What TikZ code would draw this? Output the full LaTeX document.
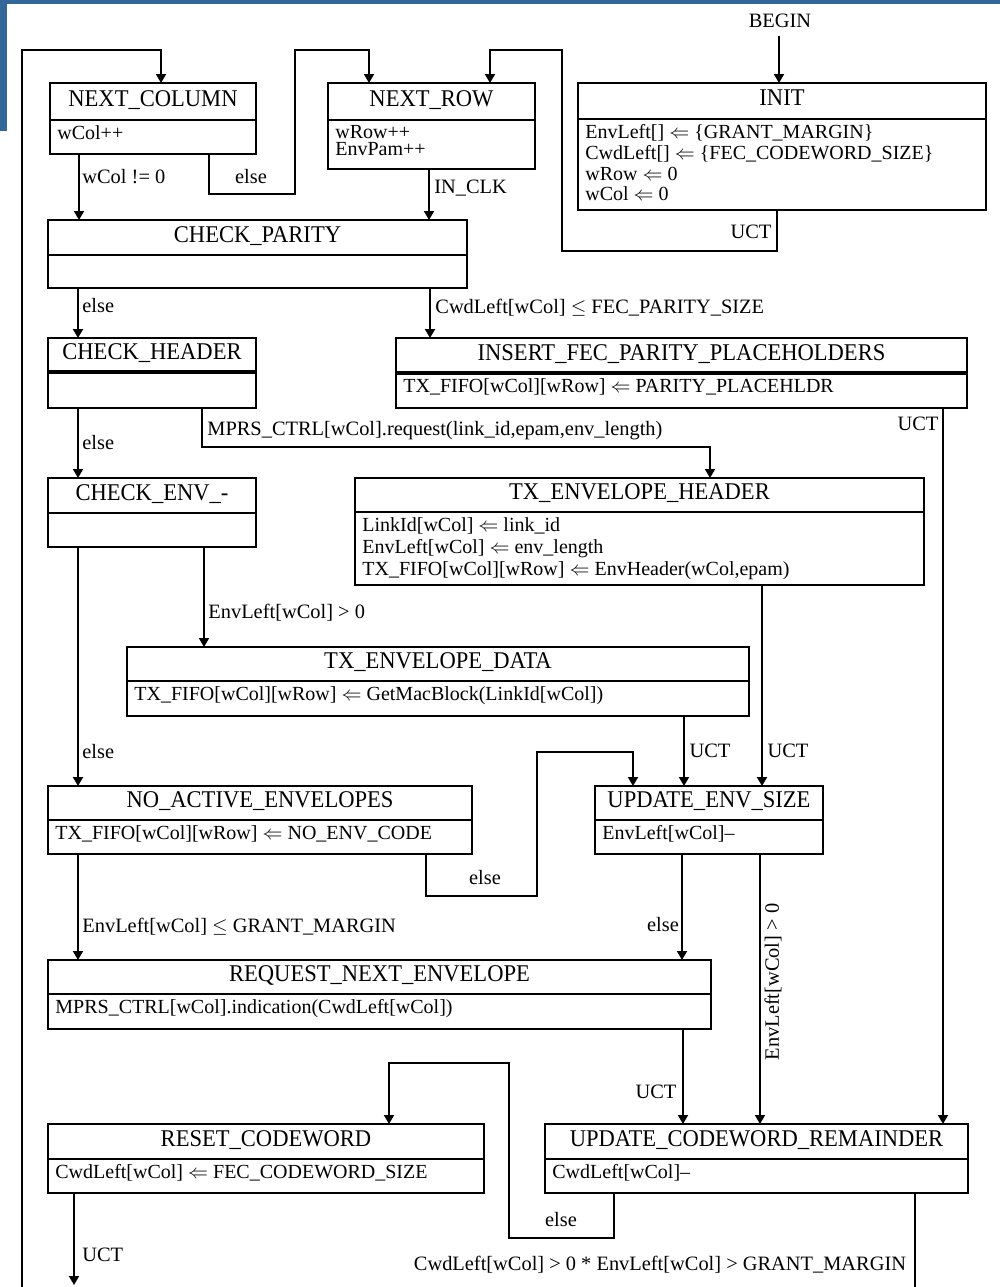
\documentclass[tikz,border=0pt]{standalone}
\usepackage{fontspec}
\setmainfont{Liberation Serif}
\newfontfamily\ttlfont{Liberation Serif}[FakeStretch=0.94]
\usetikzlibrary{arrows.meta}
\definecolor{bandblue}{RGB}{51,102,153}

\tikzset{
  sbox/.style={draw, line width=0.9pt, inner sep=0pt, outer sep=0pt},
  divline/.style={line width=0.9pt},
  thickdiv/.style={line width=1.6pt},
  ttl/.style={inner sep=0pt, anchor=base, font={\ttlfont\fontsize{12pt}{14pt}\selectfont}},
  bdy/.style={inner sep=0pt, anchor=north west, align=left},
  lbl/.style={inner sep=0pt, font={\fontsize{10.2pt}{12pt}\selectfont}},
  conn/.style={line width=0.9pt},
  arr/.style={conn, -{Triangle[length=4.5pt,width=5pt]}},
}

% state box: name, x1, y1, x2, y2, divider y, body line skip (pt), title, body
\newcommand\stbox[9]{%
  \pgfmathsetmacro\boxw{(#4-#2)*0.5}%
  \pgfmathsetmacro\boxh{(#5-#3)*0.5}%
  \node[sbox, minimum width=\boxw pt, minimum height=\boxh pt] (#1) at ({(#2+#4)/2},{(#3+#5)/2}) {};
  \draw[divline] (#2,#6) -- (#4,#6);
  \node[ttl] (#1-t) at ({(#2+#4)/2},{(#3+#6)/2+4.5}) {#8};
  \node[bdy, font={\fontsize{10pt}{#7pt}\selectfont}] (#1-b) at (#2+7,#6+5) {#9};
}

\begin{document}
\begin{tikzpicture}[x=0.5pt, y=-0.5pt]
\useasboundingbox (0,0) rectangle (1000,1287);

% page edge band
\fill[bandblue] (0,0) rectangle (1000,4);
\fill[bandblue] (0,0) rectangle (7,131);

% states
\stbox{nc}{50}{83}{256}{154}{120}{10}{NEXT\_COLUMN}{wCol++}
\stbox{nr}{328}{83}{535}{169}{120}{8.5}{NEXT\_ROW}{wRow++\\EnvPam++}
\stbox{init}{578}{83}{986}{210}{119}{10.4}{INIT}{EnvLeft[] $\Leftarrow$ \{GRANT\_MARGIN\}\\CwdLeft[] $\Leftarrow$ \{FEC\_CODEWORD\_SIZE\}\\wRow $\Leftarrow$ 0\\wCol $\Leftarrow$ 0}
\stbox{cp}{48}{220}{467}{288}{255}{10}{CHECK\_PARITY}{}
\stbox{ch}{48}{338}{256}{408}{372}{10}{CHECK\_HEADER}{}
\draw[thickdiv] (ch.west |- 0,372) -- (ch.east |- 0,372);
\stbox{ifp}{396}{338}{967}{408}{373}{10}{INSERT\_FEC\_PARITY\_PLACEHOLDERS}{TX\_FIFO[wCol][wRow] $\Leftarrow$ PARITY\_PLACEHLDR}
\draw[thickdiv] (ifp.west |- 0,373) -- (ifp.east |- 0,373);
\stbox{ce}{48}{478}{256}{547}{513}{10}{CHECK\_ENV\_-}{}
\stbox{teh}{355}{478}{924}{585}{512}{11}{TX\_ENVELOPE\_HEADER}{LinkId[wCol] $\Leftarrow$ link\_id\\EnvLeft[wCol] $\Leftarrow$ env\_length\\TX\_FIFO[wCol][wRow] $\Leftarrow$ EnvHeader(wCol,epam)}
\stbox{ted}{127}{647}{749}{716}{681}{10}{TX\_ENVELOPE\_DATA}{TX\_FIFO[wCol][wRow] $\Leftarrow$ GetMacBlock(LinkId[wCol])}
\stbox{nae}{48}{786}{472}{854}{820}{10}{NO\_ACTIVE\_ENVELOPES}{TX\_FIFO[wCol][wRow] $\Leftarrow$ NO\_ENV\_CODE}
\stbox{ues}{595}{786}{823}{854}{820}{10}{UPDATE\_ENV\_SIZE}{EnvLeft[wCol]--}
\stbox{rne}{48}{960}{711}{1029}{994}{10}{REQUEST\_NEXT\_ENVELOPE}{MPRS\_CTRL[wCol].indication(CwdLeft[wCol])}
\stbox{rc}{48}{1124}{484}{1193}{1159}{10}{RESET\_CODEWORD}{CwdLeft[wCol] $\Leftarrow$ FEC\_CODEWORD\_SIZE}
\stbox{ucr}{545}{1124}{968}{1193}{1159}{10}{UPDATE\_CODEWORD\_REMAINDER}{CwdLeft[wCol]--}

% entry point and open ends
\node[lbl, anchor=base] (begin) at (780,27) {BEGIN};
\coordinate (railend) at (22,1287);
\coordinate (loopend) at (915,1287);
\coordinate (uctend) at (74,1285);

% transitions
\draw[arr, shorten <=4pt] (begin.south -| 779,0) -- (init.north -| 779,0);
\draw[arr] (init.south -| 777,0) -- (777,251) -- (562,251) -- (562,50) -- (490,50) -- (nr.north -| 490,0);
\draw[arr] (nc.south -| 209,0) -- (209,194) -- (295,194) -- (295,50) -- (369,50) -- (nr.north -| 369,0);
\draw[arr] (railend) -- (22,50) -- (161,50) -- (nc.north -| 161,0);
\draw[arr] (nc.south -| 79,0) -- (cp.north -| 79,0);
\draw[arr] (nr.south -| 429,0) -- (cp.north -| 429,0);
\draw[arr] (cp.south -| 78,0) -- (ch.north -| 78,0);
\draw[arr] (cp.south -| 430,0) -- (ifp.north -| 430,0);
\draw[arr] (ch.south -| 78,0) -- (ce.north -| 78,0);
\draw[arr] (ch.south -| 202,0) -- (202,447) -- (710,447) -- (teh.north -| 710,0);
\draw[arr] (ifp.south -| 943,0) -- (ucr.north -| 943,0);
\draw[arr] (ce.south -| 204,0) -- (ted.north -| 204,0);
\draw[arr] (ce.south -| 78,0) -- (nae.north -| 78,0);
\draw[arr] (ted.south -| 684,0) -- (ues.north -| 684,0);
\draw[arr] (teh.south -| 762,0) -- (ues.north -| 762,0);
\draw[arr] (nae.south -| 426,0) -- (426,896) -- (537,896) -- (537,752) -- (633,752) -- (ues.north -| 633,0);
\draw[arr] (nae.south -| 78,0) -- (rne.north -| 78,0);
\draw[arr] (ues.south -| 682,0) -- (rne.north -| 682,0);
\draw[arr] (ues.south -| 760,0) -- (ucr.north -| 760,0);
\draw[arr] (rne.south -| 683,0) -- (ucr.north -| 683,0);
\draw[arr] (ucr.south -| 614,0) -- (614,1238) -- (509,1238) -- (509,1063) -- (389,1063) -- (rc.north -| 389,0);
\draw[arr] (rc.south -| 74,0) -- (uctend);
\draw[conn] (ucr.south -| 915,0) -- (loopend);

% transition conditions
\node[lbl, anchor=base west] (l-wc) at (82,183) {wCol != 0};
\node[lbl, anchor=base] (l-nce) at (251,183) {else};
\node[lbl, anchor=base west] (l-clk) at (434,193) {IN\_CLK};
\node[lbl, anchor=base] (l-iu) at (751,238) {UCT};
\node[lbl, anchor=base west] (l-cpe) at (82,312) {else};
\node[lbl, anchor=base west] (l-cwd) at (435,313) {CwdLeft[wCol] $\leq$ FEC\_PARITY\_SIZE};
\node[lbl, anchor=base west] (l-che) at (82,449) {else};
\node[lbl, anchor=base west] (l-req) at (207,435) {MPRS\_CTRL[wCol].request(link\_id,epam,env\_length)};
\node[lbl, anchor=base] (l-fu) at (918,430) {UCT};
\node[lbl, anchor=base west] (l-env) at (208,618) {EnvLeft[wCol] > 0};
\node[lbl, anchor=base west] (l-cee) at (82,758) {else};
\node[lbl, anchor=base] (l-du) at (710,757) {UCT};
\node[lbl, anchor=base] (l-hu) at (788,757) {UCT};
\node[lbl, anchor=base] (l-nae) at (485,884) {else};
\node[lbl, anchor=base west] (l-grant) at (82,932) {EnvLeft[wCol] $\leq$ GRANT\_MARGIN};
\node[lbl, anchor=base] (l-uese) at (663,931) {else};
\node[lbl, rotate=90] (l-envrot) at (773,982) {EnvLeft[wCol] > 0};
\node[lbl, anchor=base] (l-ru) at (656,1098) {UCT};
\node[lbl, anchor=base] (l-ucre) at (561,1226) {else};
\node[lbl, anchor=base west] (l-rcu) at (82,1261) {UCT};
\node[lbl, anchor=base] (l-loop) at (660,1270) {CwdLeft[wCol] > 0 * EnvLeft[wCol] > GRANT\_MARGIN};
\end{tikzpicture}
\end{document}
